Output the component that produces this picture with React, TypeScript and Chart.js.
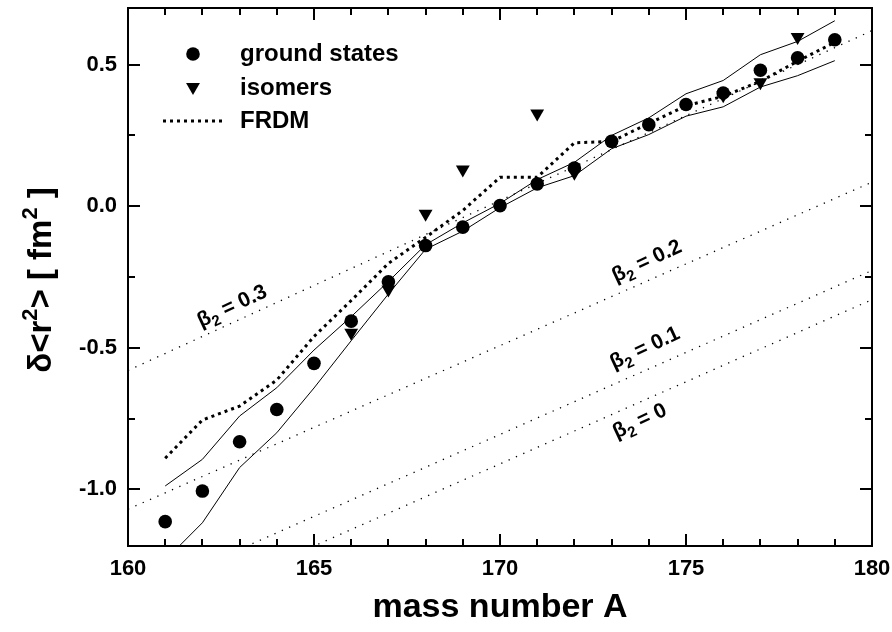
import React, { useEffect, useRef } from "react";
import { Chart, registerables } from "chart.js";

Chart.register(...registerables);

// ---------- data ----------
const massNumbers = [161, 162, 163, 164, 165, 166, 167, 168, 169, 170, 171, 172, 173, 174, 175, 176, 177, 178, 179];
const groundStates = [-1.114, -1.006, -0.832, -0.718, -0.555, -0.406, -0.267, -0.139, -0.074, 0.002, 0.079, 0.135, 0.229, 0.288, 0.359, 0.4, 0.48, 0.524, 0.588];
const upperBand = [-0.988, -0.894, -0.741, -0.641, -0.508, -0.39, -0.266, -0.136, -0.059, 0.01, 0.094, 0.155, 0.25, 0.312, 0.397, 0.444, 0.535, 0.582, 0.655];
const lowerBand = [-1.25, -1.118, -0.923, -0.8, -0.642, -0.475, -0.31, -0.152, -0.088, -0.005, 0.065, 0.108, 0.203, 0.253, 0.318, 0.351, 0.421, 0.461, 0.514];
const frdmValues = [-0.89, -0.755, -0.706, -0.614, -0.46, -0.333, -0.202, -0.11, -0.015, 0.102, 0.102, 0.224, 0.229, 0.292, 0.355, 0.388, 0.441, 0.512, 0.579];

const isomerMass = [166, 167, 168, 169, 171, 172, 176, 177, 178];
const isomerValues = [-0.447, -0.294, -0.027, 0.13, 0.327, 0.118, 0.392, 0.438, 0.598];

const betaNames = ["0.3", "0.2", "0.1", "0"];
const betaLineMass = [160, 180];
const betaStart = [-0.58, -1.07, -1.385, -1.49];
const betaEnd = [0.62, 0.085, -0.227, -0.33];
const betaLabelMass = [162.8, 173.95, 173.9, 173.76];
const betaLabelValue = [-0.354, -0.195, -0.502, -0.76];

const xTicks = [160, 165, 170, 175, 180];
const yTicks = [-1.0, -0.5, 0.0, 0.5];
const xMinorStep = 1;
const yMinorStep = 0.25;

const FONT = '"Liberation Sans", Arial, Helvetica, sans-serif';

type Part = { t: string; size: number; dy: number };

function drawRich(ctx: CanvasRenderingContext2D, parts: Part[], cx: number, cy: number) {
  let total = 0;
  const widths = parts.map((p) => {
    ctx.font = `bold ${p.size}px ${FONT}`;
    const w = ctx.measureText(p.t).width;
    total += w;
    return w;
  });
  let x = cx - total / 2;
  parts.forEach((p, i) => {
    ctx.font = `bold ${p.size}px ${FONT}`;
    ctx.fillText(p.t, x, cy + p.dy);
    x += widths[i];
  });
}

function downTriangle(ctx: CanvasRenderingContext2D, x: number, y: number, r: number) {
  ctx.beginPath();
  for (let k = 0; k < 3; k++) {
    const a = Math.PI + (k * 2 * Math.PI) / 3;
    const px = x + Math.sin(a) * r;
    const py = y - Math.cos(a) * r;
    if (k === 0) ctx.moveTo(px, py);
    else ctx.lineTo(px, py);
  }
  ctx.closePath();
  ctx.fill();
}

const decorPlugin = {
  id: "decor",
  afterDraw(chart: any) {
    const ctx: CanvasRenderingContext2D = chart.ctx;
    const { left, right, top, bottom } = chart.chartArea;
    const xs = chart.scales.x;
    const ys = chart.scales.y;
    ctx.save();
    ctx.strokeStyle = "#000";
    ctx.fillStyle = "#000";
    ctx.lineWidth = 2;
    ctx.setLineDash([]);
    ctx.strokeRect(left, top, right - left, bottom - top);

    const line = (x1: number, y1: number, x2: number, y2: number) => {
      ctx.beginPath();
      ctx.moveTo(x1, y1);
      ctx.lineTo(x2, y2);
      ctx.stroke();
    };
    for (let a = xs.min; a <= xs.max + 1e-9; a += xMinorStep) {
      const px = Math.round(xs.getPixelForValue(a));
      const major = xTicks.some((t) => Math.abs(t - a) < 1e-6);
      const len = major ? 12 : 7;
      line(px, bottom, px, bottom - len);
      line(px, top, px, top + len);
    }
    for (let v = Math.ceil(ys.min / yMinorStep) * yMinorStep; v <= ys.max + 1e-9; v += yMinorStep) {
      const py = Math.round(ys.getPixelForValue(v));
      const major = yTicks.some((t) => Math.abs(t - v) < 1e-6);
      const len = major ? 12 : 7;
      line(left, py, left + len, py);
      line(right, py, right - len, py);
    }

    // legend
    const lx = 193;
    const ly = [54, 88, 121];
    ctx.beginPath();
    ctx.arc(lx, ly[0], 6.8, 0, Math.PI * 2);
    ctx.fill();
    downTriangle(ctx, lx, ly[1] - 1, 8);
    ctx.lineWidth = 3;
    ctx.setLineDash([3, 4]);
    line(163, ly[2], 224, ly[2]);
    ctx.setLineDash([]);
    ctx.font = `bold 24px ${FONT}`;
    ctx.textAlign = "left";
    ctx.textBaseline = "middle";
    ctx.fillText("ground states", 240, ly[0]);
    ctx.fillText("isomers", 240, ly[1]);
    ctx.fillText("FRDM", 240, ly[2]);

    // beta labels
    ctx.textAlign = "left";
    ctx.textBaseline = "middle";
    betaNames.forEach((name, i) => {
      const px = xs.getPixelForValue(betaLabelMass[i]);
      const py = ys.getPixelForValue(betaLabelValue[i]);
      ctx.save();
      ctx.translate(px, py);
      ctx.rotate((-25 * Math.PI) / 180);
      drawRich(
        ctx,
        [
          { t: "\u03b2", size: 21, dy: 0 },
          { t: "2", size: 15, dy: 7 },
          { t: " = " + name, size: 21, dy: 0 },
        ],
        0,
        0
      );
      ctx.restore();
    });

    // axis titles
    ctx.textBaseline = "alphabetic";
    ctx.font = `bold 34px ${FONT}`;
    ctx.textAlign = "center";
    ctx.fillText("mass number A", (left + right) / 2, 617);

    ctx.save();
    ctx.translate(51, 280);
    ctx.rotate(-Math.PI / 2);
    ctx.textAlign = "left";
    drawRich(
      ctx,
      [
        { t: "\u03b4<r", size: 33, dy: 0 },
        { t: "2", size: 22, dy: -14 },
        { t: "> [ fm", size: 33, dy: 0 },
        { t: "2", size: 22, dy: -14 },
        { t: " ]", size: 33, dy: 0 },
      ],
      0,
      0
    );
    ctx.restore();
    ctx.restore();
  },
};

export default function App() {
  const ref = useRef<HTMLCanvasElement | null>(null);
  useEffect(() => {
    document.body.style.margin = "0";
    const canvas = ref.current!;
    const pts = (xsArr: number[], ysArr: number[]) => xsArr.map((x, i) => ({ x, y: ysArr[i] }));
    const betaSets = betaNames.map((n, i) => ({
      label: "beta " + n,
      data: pts(betaLineMass, [betaStart[i], betaEnd[i]]),
      showLine: true,
      borderColor: "#000",
      borderWidth: 1.3,
      borderDash: [1.3, 6.7],
      pointRadius: 0,
      clip: 0,
      order: 4,
    }));
    const chart = new Chart(canvas, {
      type: "scatter",
      data: {
        datasets: [
          {
            label: "ground states",
            data: pts(massNumbers, groundStates),
            pointStyle: "circle",
            pointRadius: 6.8,
            pointBackgroundColor: "#000",
            pointBorderColor: "#000",
            pointBorderWidth: 0,
            showLine: false,
            order: 0,
          },
          {
            label: "isomers",
            data: pts(isomerMass, isomerValues),
            pointStyle: "triangle",
            pointRotation: 180,
            pointRadius: 8,
            pointBackgroundColor: "#000",
            pointBorderColor: "#000",
            pointBorderWidth: 0,
            showLine: false,
            order: 0,
          },
          {
            label: "FRDM",
            data: pts(massNumbers, frdmValues),
            showLine: true,
            borderColor: "#000",
            borderWidth: 3,
            borderDash: [3, 4],
            pointRadius: 0,
            clip: 0,
            order: 2,
          },
          {
            label: "upper",
            data: pts(massNumbers, upperBand),
            showLine: true,
            borderColor: "#000",
            borderWidth: 1,
            pointRadius: 0,
            clip: 0,
            order: 3,
          },
          {
            label: "lower",
            data: pts(massNumbers, lowerBand),
            showLine: true,
            borderColor: "#000",
            borderWidth: 1,
            pointRadius: 0,
            clip: 0,
            order: 3,
          },
          ...betaSets,
        ] as any,
      },
      options: {
        responsive: false,
        animation: false,
        devicePixelRatio: 1,
        layout: { padding: { top: 8, right: 20, left: 0, bottom: 0 } },
        plugins: { legend: { display: false }, tooltip: { enabled: false } },
        scales: {
          x: {
            type: "linear",
            min: 160,
            max: 180,
            grid: { display: false, drawTicks: false },
            border: { display: false },
            afterBuildTicks: (s: any) => {
              s.ticks = xTicks.map((v) => ({ value: v }));
            },
            afterFit: (s: any) => {
              s.height = 86;
              s.paddingLeft = 0;
              s.paddingRight = 0;
            },
            ticks: {
              color: "#000",
              font: { family: FONT, size: 22, weight: "bold" },
              padding: 10,
              maxRotation: 0,
              autoSkip: false,
              callback: (v: any) => String(v),
            },
          },
          y: {
            type: "linear",
            min: -1.2,
            max: 0.7,
            grid: { display: false, drawTicks: false },
            border: { display: false },
            afterBuildTicks: (s: any) => {
              s.ticks = yTicks.map((v) => ({ value: v }));
            },
            afterFit: (s: any) => {
              s.width = 128;
              s.paddingTop = 0;
              s.paddingBottom = 0;
            },
            ticks: {
              color: "#000",
              font: { family: FONT, size: 22, weight: "bold" },
              padding: 11,
              autoSkip: false,
              callback: (v: any) => Number(v).toFixed(1),
            },
          },
        },
      } as any,
      plugins: [decorPlugin],
    });
    return () => chart.destroy();
  }, []);
  return <canvas ref={ref} width={892} height={632} style={{ display: "block" }} />;
}
